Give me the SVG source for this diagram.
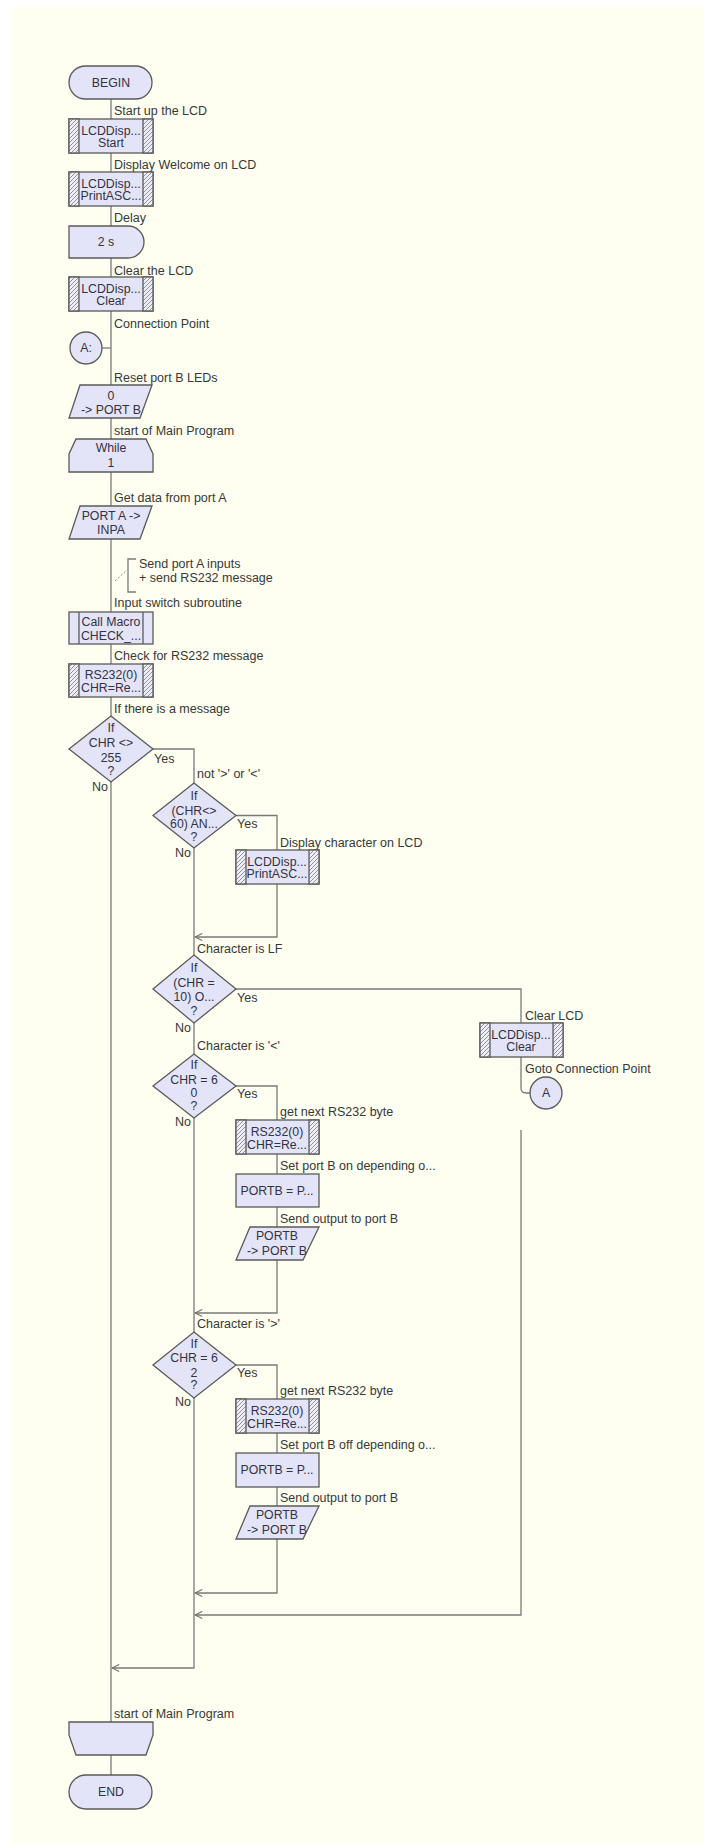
<svg xmlns="http://www.w3.org/2000/svg" width="704" height="1843" viewBox="0 0 704 1843">
<defs>
<pattern id="hatch" patternUnits="userSpaceOnUse" width="4" height="4">
<rect width="4" height="4" fill="#eeeef8"/>
<path d="M-1,1 L1,-1 M0,4 L4,0 M3,5 L5,3" stroke="#7a7a7a" stroke-width="0.8"/>
</pattern>
<marker id="arr" viewBox="0 0 10 10" refX="9" refY="5" markerWidth="9" markerHeight="9" markerUnits="userSpaceOnUse" orient="auto">
<path d="M1,1 L9,5 L1,9" fill="none" stroke="#707070" stroke-width="1.2"/>
</marker>
</defs>
<style>
.bg{fill:#fefef1}
.n{fill:#e4e4f8;stroke:#5a5a5a;stroke-width:1.3}
.h{fill:url(#hatch);stroke:#5a5a5a;stroke-width:1.3}
.c{fill:none;stroke:#7a7a7a;stroke-width:1.3}
.t{font-family:"Liberation Sans",Arial,sans-serif;font-size:12.3px;fill:#333344;text-anchor:middle}
.l{font-family:"Liberation Sans",Arial,sans-serif;font-size:12.5px;fill:#383838}
.r{text-anchor:end}
</style>
<rect width="704" height="1843" fill="#ffffff"/>
<rect class="bg" x="12" y="7" width="692" height="1836"/>

<g id="connectors">
<path class="c" d="M111,99 V1722"/>
<path class="c" d="M102,348 H111"/>
<path class="c" d="M153,749 H194 V783"/>
<path class="c" d="M194,848 V1668 H112" marker-end="url(#arr)"/>
<path class="c" d="M236,815.5 H277 V850"/>
<path class="c" d="M277,884 V937 H195" marker-end="url(#arr)"/>
<path class="c" d="M236,989 H521 V1023"/>
<path class="c" d="M521,1057 V1088 Q521,1093 526,1093 H530"/>
<path class="c" d="M236,1086 H277 V1120"/>
<path class="c" d="M277,1154 V1174 M277,1207 V1227"/>
<path class="c" d="M277,1260 V1313 H195" marker-end="url(#arr)"/>
<path class="c" d="M236,1365 H277 V1399"/>
<path class="c" d="M277,1433 V1453 M277,1487 V1506"/>
<path class="c" d="M277,1539 V1593 H195" marker-end="url(#arr)"/>
<path class="c" d="M521,1130 V1615 H195" marker-end="url(#arr)"/>
<path class="c" d="M111,1755 V1775"/>
</g>

<g id="labels">
<text class="l" x="114" y="115">Start up the LCD</text>
<text class="l" x="114" y="169">Display Welcome on LCD</text>
<text class="l" x="114" y="222">Delay</text>
<text class="l" x="114" y="275">Clear the LCD</text>
<text class="l" x="114" y="328">Connection Point</text>
<text class="l" x="114" y="382">Reset port B LEDs</text>
<text class="l" x="114" y="435">start of Main Program</text>
<text class="l" x="114" y="502">Get data from port A</text>
<text class="l" x="114" y="607">Input switch subroutine</text>
<text class="l" x="114" y="660">Check for RS232 message</text>
<text class="l" x="114" y="713">If there is a message</text>
<text class="l" x="197" y="778">not '&gt;' or '&lt;'</text>
<text class="l" x="280" y="847">Display character on LCD</text>
<text class="l" x="197" y="953">Character is LF</text>
<text class="l" x="525" y="1020">Clear LCD</text>
<text class="l" x="525" y="1073">Goto Connection Point</text>
<text class="l" x="197" y="1050">Character is '&lt;'</text>
<text class="l" x="280" y="1116">get next RS232 byte</text>
<text class="l" x="280" y="1170">Set port B on depending o...</text>
<text class="l" x="280" y="1223">Send output to port B</text>
<text class="l" x="197" y="1328">Character is '&gt;'</text>
<text class="l" x="280" y="1395">get next RS232 byte</text>
<text class="l" x="280" y="1449">Set port B off depending o...</text>
<text class="l" x="280" y="1502">Send output to port B</text>
<text class="l" x="114" y="1718">start of Main Program</text>
</g>

<g id="comment">
<path class="c" d="M136,559 H128 V592 H136"/>
<path d="M115,581 L127,570" stroke="#8a8a8a" stroke-width="1" stroke-dasharray="2,2" fill="none"/>
<text class="l" x="139" y="568">Send port A inputs</text>
<text class="l" x="139" y="582">+ send RS232 message</text>
</g>

<g id="begin">
<rect class="n" x="69" y="66" width="83" height="33" rx="16.5"/>
<text class="t" x="111" y="86.5">BEGIN</text>
</g>

<g id="lcd-start">
<rect class="n" x="69" y="119" width="84" height="34"/>
<rect class="h" x="69" y="119" width="10" height="34"/>
<rect class="h" x="143" y="119" width="10" height="34"/>
<text class="t" x="111" y="135">LCDDisp...</text>
<text class="t" x="111" y="147">Start</text>
</g>

<g id="lcd-print1">
<rect class="n" x="69" y="172" width="84" height="34"/>
<rect class="h" x="69" y="172" width="10" height="34"/>
<rect class="h" x="143" y="172" width="10" height="34"/>
<text class="t" x="111" y="188">LCDDisp...</text>
<text class="t" x="111" y="200">PrintASC...</text>
</g>

<g id="delay">
<path class="n" d="M69,226 H128 A16,16 0 0 1 128,258 H69 Z"/>
<text class="t" x="106" y="246">2 s</text>
</g>

<g id="lcd-clear1">
<rect class="n" x="69" y="277" width="84" height="34"/>
<rect class="h" x="69" y="277" width="10" height="34"/>
<rect class="h" x="143" y="277" width="10" height="34"/>
<text class="t" x="111" y="293">LCDDisp...</text>
<text class="t" x="111" y="305">Clear</text>
</g>

<g id="conn-a">
<circle class="n" cx="86" cy="348" r="16"/>
<text class="t" x="86" y="352">A:</text>
</g>

<g id="out-portb0">
<polygon class="n" points="80,385 152,385 140,418 69,418"/>
<text class="t" x="111" y="400">0</text>
<text class="t" x="111" y="414">-&gt; PORT B</text>
</g>

<g id="while">
<polygon class="n" points="76,439 146,439 153,454 153,472 69,472 69,454"/>
<text class="t" x="111" y="452">While</text>
<text class="t" x="111" y="467">1</text>
</g>

<g id="in-porta">
<polygon class="n" points="80,506 152,506 140,539 69,539"/>
<text class="t" x="111" y="520">PORT A -&gt;</text>
<text class="t" x="111" y="534">INPA</text>
</g>

<g id="call-macro">
<rect class="n" x="69" y="612" width="84" height="32"/>
<path d="M79,612 V644 M143,612 V644" stroke="#5a5a5a" stroke-width="1.3"/>
<text class="t" x="111" y="626">Call Macro</text>
<text class="t" x="111" y="640">CHECK_...</text>
</g>

<g id="rs232-1">
<rect class="n" x="69" y="664" width="84" height="33"/>
<rect class="h" x="69" y="664" width="10" height="33"/>
<rect class="h" x="143" y="664" width="10" height="33"/>
<text class="t" x="111" y="679">RS232(0)</text>
<text class="t" x="111" y="692">CHR=Re...</text>
</g>

<g id="if1">
<polygon class="n" points="111,716 153,749 111,782 69,749"/>
<text class="t" x="111" y="732">If</text>
<text class="t" x="111" y="747">CHR &lt;&gt;</text>
<text class="t" x="111" y="762">255</text>
<text class="t" x="111" y="775">?</text>
<text class="l" x="154" y="763">Yes</text>
<text class="l r" x="108" y="791">No</text>
</g>

<g id="if2">
<polygon class="n" points="194,783 236,815.5 194,848 153,815.5"/>
<text class="t" x="194" y="800">If</text>
<text class="t" x="194" y="815">(CHR&lt;&gt;</text>
<text class="t" x="194" y="828">60) AN...</text>
<text class="t" x="194" y="841">?</text>
<text class="l" x="237" y="828">Yes</text>
<text class="l r" x="191" y="857">No</text>
</g>

<g id="lcd-print2">
<rect class="n" x="236" y="850" width="83" height="34"/>
<rect class="h" x="236" y="850" width="10" height="34"/>
<rect class="h" x="309" y="850" width="10" height="34"/>
<text class="t" x="277" y="866">LCDDisp...</text>
<text class="t" x="277" y="878">PrintASC...</text>
</g>

<g id="if3">
<polygon class="n" points="194,955 236,989 194,1023 153,989"/>
<text class="t" x="194" y="972">If</text>
<text class="t" x="194" y="987">(CHR =</text>
<text class="t" x="194" y="1001">10) O...</text>
<text class="t" x="194" y="1015">?</text>
<text class="l" x="237" y="1002">Yes</text>
<text class="l r" x="191" y="1032">No</text>
</g>

<g id="lcd-clear2">
<rect class="n" x="480" y="1023" width="83" height="34"/>
<rect class="h" x="480" y="1023" width="10" height="34"/>
<rect class="h" x="553" y="1023" width="10" height="34"/>
<text class="t" x="521" y="1039">LCDDisp...</text>
<text class="t" x="521" y="1051">Clear</text>
</g>

<g id="goto-a">
<circle class="n" cx="546" cy="1093" r="16"/>
<text class="t" x="546" y="1097">A</text>
</g>

<g id="if4">
<polygon class="n" points="194,1054 236,1086 194,1118 153,1086"/>
<text class="t" x="194" y="1069">If</text>
<text class="t" x="194" y="1084">CHR = 6</text>
<text class="t" x="194" y="1097">0</text>
<text class="t" x="194" y="1110">?</text>
<text class="l" x="237" y="1098">Yes</text>
<text class="l r" x="191" y="1126">No</text>
</g>

<g id="rs232-2">
<rect class="n" x="236" y="1120" width="83" height="34"/>
<rect class="h" x="236" y="1120" width="10" height="34"/>
<rect class="h" x="309" y="1120" width="10" height="34"/>
<text class="t" x="277" y="1136">RS232(0)</text>
<text class="t" x="277" y="1149">CHR=Re...</text>
</g>

<g id="calc-on">
<rect class="n" x="236" y="1174" width="83" height="33"/>
<text class="t" x="277" y="1195">PORTB = P...</text>
</g>

<g id="out-portb1">
<polygon class="n" points="250,1227 319,1227 303,1260 236,1260"/>
<text class="t" x="277" y="1240">PORTB</text>
<text class="t" x="277" y="1255">-&gt; PORT B</text>
</g>

<g id="if5">
<polygon class="n" points="194,1332 236,1365 194,1398 153,1365"/>
<text class="t" x="194" y="1348">If</text>
<text class="t" x="194" y="1362">CHR = 6</text>
<text class="t" x="194" y="1377">2</text>
<text class="t" x="194" y="1389">?</text>
<text class="l" x="237" y="1377">Yes</text>
<text class="l r" x="191" y="1406">No</text>
</g>

<g id="rs232-3">
<rect class="n" x="236" y="1399" width="83" height="34"/>
<rect class="h" x="236" y="1399" width="10" height="34"/>
<rect class="h" x="309" y="1399" width="10" height="34"/>
<text class="t" x="277" y="1415">RS232(0)</text>
<text class="t" x="277" y="1428">CHR=Re...</text>
</g>

<g id="calc-off">
<rect class="n" x="236" y="1453" width="83" height="34"/>
<text class="t" x="277" y="1474">PORTB = P...</text>
</g>

<g id="out-portb2">
<polygon class="n" points="250,1506 319,1506 303,1539 236,1539"/>
<text class="t" x="277" y="1519">PORTB</text>
<text class="t" x="277" y="1534">-&gt; PORT B</text>
</g>

<g id="end-while">
<polygon class="n" points="69,1722 153,1722 153,1735 146,1755 76,1755 69,1735"/>
</g>

<g id="end">
<rect class="n" x="69" y="1775" width="83" height="34" rx="17"/>
<text class="t" x="111" y="1796">END</text>
</g>
</svg>
